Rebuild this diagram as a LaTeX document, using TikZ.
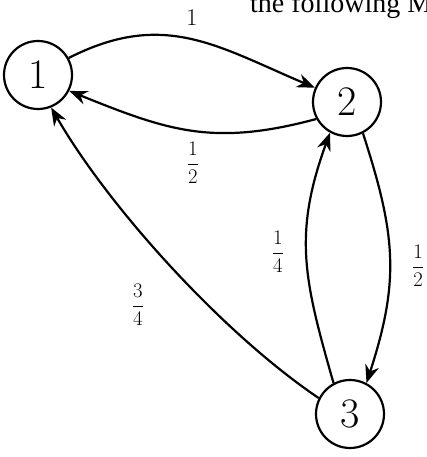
\documentclass[tikz,border=0pt]{standalone}
\usepackage{fontspec}
\newfontfamily\pagefont{Liberation Serif}
\usetikzlibrary{arrows.meta}
\begin{document}
\begin{tikzpicture}[x=1pt,y=1pt,
  state/.style={draw,circle,line width=2.2pt,minimum size=68pt,inner sep=0pt,font=\fontsize{42}{44}\selectfont},
  edge/.style={line width=2.2pt,-{Stealth[length=18pt,width=14pt]}},
  lab/.style={font=\fontsize{22}{24}\selectfont,inner sep=0pt}]
\useasboundingbox (0,0) rectangle (426,-457);
\node[anchor=base west,inner sep=0pt,font=\pagefont\fontsize{28}{30}\selectfont] (pg) at (250,-13) {the following Ma};
\node[state] (n1) at (38,-75) {1};
\node[state] (n2) at (347,-102) {2};
\node[state] (n3) at (350,-414) {3};
\draw[edge] (n1.29) to[out=27,in=157,looseness=1.1] (n2.156);
\draw[edge] (n2.209) to[out=195,in=-22,looseness=1.1] (n1.333);
\draw[edge] (n3.153) to[out=146,in=-60,looseness=0.75] (n1.292);
\draw[edge] (n3.118) to[out=106,in=250,looseness=1.1] (n2.241);
\draw[edge] (n2.-63) to[out=-72,in=72,looseness=1.1] (n3.62);
\node[lab,font=\fontsize{24}{26}\selectfont] (l12) at (192,-18) {1};
\node[lab] (l21) at (193,-163) {$\displaystyle\frac{1}{2}$};
\node[lab] (l31) at (138,-305) {$\displaystyle\frac{3}{4}$};
\node[lab] (l32) at (278,-252) {$\displaystyle\frac{1}{4}$};
\node[lab] (l23) at (418,-266) {$\displaystyle\frac{1}{2}$};
\end{tikzpicture}
\end{document}
